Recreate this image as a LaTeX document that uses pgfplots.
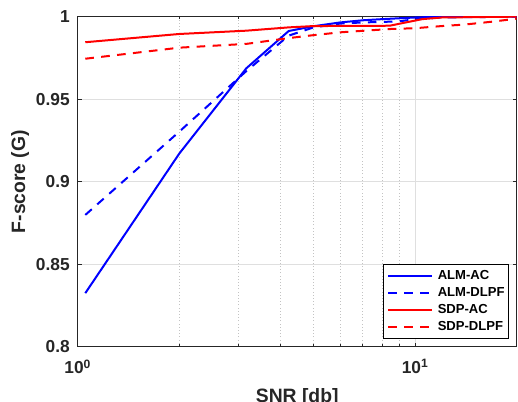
\documentclass[border=0pt]{standalone}
\usepackage{fontspec}
\setmainfont{Liberation Sans}
\usepackage{pgfplots}
\pgfplotsset{compat=1.18}
\definecolor{axgray}{RGB}{38,38,38}
\definecolor{gridmaj}{RGB}{223,223,223}
\definecolor{gridmin}{RGB}{195,195,195}

\begin{document}
\begin{tikzpicture}
\begin{axis}[
    scale only axis,
    width=329.25pt, height=247.5pt,
    xmode=log, xmin=1, xmax=20,
    ymin=0.8, ymax=1,
    xtick={1,10}, xticklabels={10\textsuperscript{0},10\textsuperscript{1}},
    minor xtick={2,3,4,5,6,7,8,9,20},
    ytick={0.8,0.85,0.9,0.95,1}, yticklabels={0.8,0.85,0.9,0.95,1},
    tick align=inside, xtick pos=both, ytick pos=both,
    xticklabel pos=bottom, yticklabel pos=left,
    major tick length=3pt, minor tick length=2pt,
    xmajorgrids, ymajorgrids, xminorgrids,
    major grid style={gridmaj, line width=0.6pt},
    minor grid style={gridmin, dotted, line width=0.6pt},
    axis line style={axgray, line width=0.8pt},
    every tick/.style={axgray, line width=0.8pt},
    tick label style={font=\fontsize{13}{15}\selectfont\bfseries, text=axgray},
    xticklabel style={anchor=north, inner sep=0pt, yshift=-9.5pt},
    yticklabel style={anchor=east, inner sep=0pt, xshift=-5.8pt},
    legend style={at={(1,0)}, anchor=south east, xshift=-5.8pt, yshift=6pt,
        draw=black, line width=0.6pt, fill=white,
        font=\fontsize{9.8}{11}\selectfont\bfseries,
        inner xsep=3pt, inner ysep=3.5pt, row sep=2.75pt, column sep=3.75pt,
        nodes={inner sep=0pt, text height=7.5pt, text depth=2.5pt}},
    legend cell align=left,
    legend image code/.code={\draw[#1] (0pt,0pt) -- (32.8pt,0pt);},
]
\addplot[blue, line width=1.5pt] coordinates {
    (1.053,0.8324) (2,0.9170) (3.16,0.9687) (4.22,0.9913) (5,0.9942)
    (6,0.9965) (7,0.9978) (8,0.9985) (10,0.9995) (12,1.0) (20,1.0)
};
\addlegendentry{ALM-AC}
\addplot[blue, line width=1.5pt, dash pattern=on 6.5pt off 5.5pt] coordinates {
    (1.053,0.8798) (2,0.9303) (3.16,0.9670) (4.22,0.9885) (5,0.9935)
    (6,0.9958) (7,0.9965) (8,0.9968) (9,0.9972) (10,0.9985) (12,0.9995) (20,1.0)
};
\addlegendentry{ALM-DLPF}
\addplot[red, line width=1.5pt] coordinates {
    (1.053,0.9845) (2,0.9895) (3.16,0.9915) (4.22,0.9935) (5,0.9943)
    (8.4,0.9945) (10.5,0.9985) (12,0.9995) (20,1.0)
};
\addlegendentry{SDP-AC}
\addplot[red, line width=1.5pt, dash pattern=on 6.5pt off 5.5pt] coordinates {
    (1.053,0.9745) (2,0.9812) (3.16,0.9835) (4.22,0.9870) (5,0.9888)
    (6,0.9905) (8.4,0.9925) (10,0.9930) (12,0.9943) (14,0.9952) (17,0.9970) (20,0.9988)
};
\addlegendentry{SDP-DLPF}
\end{axis}
\node[anchor=north, inner sep=0pt, font=\fontsize{14.5}{17}\selectfont\bfseries, text=axgray]
    at ([yshift=-31pt]current axis.south) {SNR [db]};
\node[rotate=90, anchor=base, inner sep=0pt, font=\fontsize{14.5}{17}\selectfont\bfseries, text=axgray]
    at ([xshift=-39.5pt]current axis.west) {F-score (G)};
\pgfresetboundingbox
\path[use as bounding box] ([xshift=-58.3pt, yshift=-41.5pt]current axis.south west)
    rectangle ([xshift=1pt, yshift=12.5pt]current axis.north east);
\end{tikzpicture}
\end{document}
